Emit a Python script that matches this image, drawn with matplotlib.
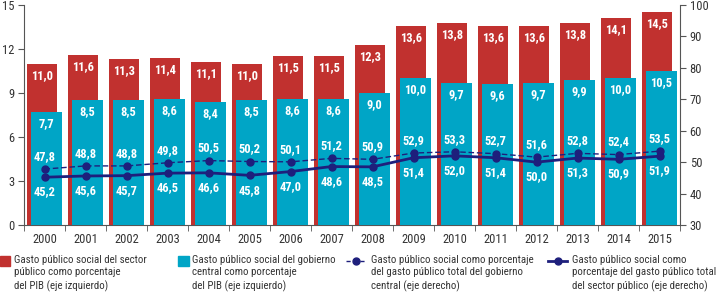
import matplotlib
matplotlib.use("Agg")
import matplotlib.pyplot as plt
from matplotlib import font_manager
from matplotlib.patches import Rectangle
from matplotlib.lines import Line2D
import numpy as np

years = ["2000", "2001", "2002", "2003", "2004", "2005", "2006", "2007",
         "2008", "2009", "2010", "2011", "2012", "2013", "2014", "2015"]
sector_publico_pib = [11.0, 11.6, 11.3, 11.4, 11.1, 11.0, 11.5, 11.5,
                      12.3, 13.6, 13.8, 13.6, 13.6, 13.8, 14.1, 14.5]
gobierno_central_pib = [7.7, 8.5, 8.5, 8.6, 8.4, 8.5, 8.6, 8.6,
                        9.0, 10.0, 9.7, 9.6, 9.7, 9.9, 10.0, 10.5]
pct_gobierno_central = [47.8, 48.8, 48.8, 49.8, 50.5, 50.2, 50.1, 51.2,
                        50.9, 52.9, 53.3, 52.7, 51.6, 52.8, 52.4, 53.5]
pct_sector_publico = [45.2, 45.6, 45.7, 46.5, 46.6, 45.8, 47.0, 48.6,
                      48.5, 51.4, 52.0, 51.4, 50.0, 51.3, 50.9, 51.9]
legend_labels = [
    "Gasto público social del sector\npúblico como porcentaje\ndel PIB (eje izquierdo)",
    "Gasto público social del gobierno\ncentral como porcentaje\ndel PIB (eje izquierdo)",
    "Gasto público social como porcentaje\ndel gasto público total del gobierno\ncentral (eje derecho)",
    "Gasto público social como\nporcentaje del gasto público total\ndel sector público (eje derecho)",
]

RED = "#C1312F"
BLUE = "#00A5C6"
NAVY = "#1E1F7C"
GRAY = "#555555"

# pick a condensed face if one is installed, else a narrow-ish sans
fams = {}
for f in font_manager.fontManager.ttflist:
    fams.setdefault(f.name, set()).add(str(f.stretch))
condensed_stretches = {"condensed", "semi-condensed", "extra-condensed",
                       "ultra-condensed", "75", "87", "62", "50"}
FAMILY, STRETCH, SCALE = "Liberation Sans", "normal", 0.88
for name in ["Roboto Condensed", "Liberation Sans Narrow", "Open Sans Condensed",
             "Noto Sans Condensed", "DejaVu Sans Condensed"]:
    if name in fams:
        FAMILY, STRETCH, SCALE = name, "normal", 1.0
        break
else:
    for name in ["Roboto", "DejaVu Sans", "Open Sans", "Noto Sans", "Liberation Sans"]:
        if name in fams and fams[name] & condensed_stretches:
            FAMILY, STRETCH, SCALE = name, "condensed", 1.0
            break

plt.rcParams["font.family"] = [FAMILY, "DejaVu Sans"]
plt.rcParams["font.stretch"] = STRETCH

def fs(v):
    return v * SCALE

def fmt(v):
    return f"{v:.1f}".replace(".", ",")

fig = plt.figure(figsize=(7.17, 2.98), dpi=100)
ax = fig.add_axes([24 / 717, 1 - 225 / 298, (680 - 24) / 717, 220 / 298])
ax2 = ax.twinx()

x = np.arange(len(years))
w = 0.74
ax.bar(x - 0.06, sector_publico_pib, width=w, color=RED, zorder=2)
ax.bar(x + 0.05, gobierno_central_pib, width=w, color=BLUE, zorder=3)

lab_kw = dict(color="white", fontweight="bold", ha="center", va="center",
              fontsize=fs(9), zorder=5)
for i, v in enumerate(sector_publico_pib):
    ax.text(x[i] - 0.06, v - 0.8, fmt(v), **lab_kw)
for i, v in enumerate(gobierno_central_pib):
    ax.text(x[i] + 0.05, v - 0.8, fmt(v), **lab_kw)

ax.set_xlim(-0.5, len(years) - 0.5)
ax.set_ylim(0, 15)
ax.set_yticks([0, 3, 6, 9, 12, 15])
ax.set_xticks(x)
ax.set_xticklabels(years)
ax.set_xticks(np.arange(-0.5, len(years), 1), minor=True)
ax.tick_params(axis="x", which="major", length=0, pad=6, labelsize=fs(9), colors="#333333")
ax.tick_params(axis="x", which="minor", length=4, color=GRAY, direction="out")
ax.tick_params(axis="y", length=4, color=GRAY, labelsize=fs(9), labelcolor="#333333", pad=3)

ax2.set_zorder(ax.get_zorder() + 1)
ax2.patch.set_visible(False)
ax2.set_ylim(30, 100)
ax2.set_yticks([30, 40, 50, 60, 70, 80, 90, 100])
ax2.tick_params(axis="y", length=4, color=GRAY, labelsize=fs(9), labelcolor="#333333", pad=3)

ax2.plot(x, pct_gobierno_central, color=NAVY, lw=1.0, ls=(0, (4, 2)),
         marker="o", ms=5, zorder=4)
ax2.plot(x, pct_sector_publico, color=NAVY, lw=2.0, marker="o", ms=5, zorder=4)
lab_kw2 = dict(lab_kw)
lab_kw2.pop("zorder")
for i in range(len(years)):
    ax2.text(x[i], pct_gobierno_central[i] + 4.0, fmt(pct_gobierno_central[i]), **lab_kw2)
    ax2.text(x[i], pct_sector_publico[i] - 4.7, fmt(pct_sector_publico[i]), **lab_kw2)

for a in (ax, ax2):
    a.spines["top"].set_visible(False)
    for s in ("left", "right", "bottom"):
        a.spines[s].set_color(GRAY)
        a.spines[s].set_linewidth(0.8)
ax2.spines["left"].set_visible(False)
ax2.spines["bottom"].set_visible(False)
ax.spines["right"].set_visible(False)

# Legend drawn manually in figure pixel coordinates
def fx(px):
    return px / 717
def fy(py):
    return 1 - py / 298

text_kw = dict(fontsize=fs(7.8), color="#333333", va="top", ha="left", linespacing=1.3)
fig.patches.append(Rectangle((fx(0), fy(266)), fx(10), 10 / 298, color=RED,
                             transform=fig.transFigure, figure=fig))
fig.text(fx(14), fy(255), legend_labels[0], **text_kw)
fig.patches.append(Rectangle((fx(178), fy(266)), fx(11), 10 / 298, color=BLUE,
                             transform=fig.transFigure, figure=fig))
fig.text(fx(192), fy(255), legend_labels[1], **text_kw)
fig.lines.append(Line2D([fx(346), fx(366)], [fy(261), fy(261)], color=NAVY, lw=1.0,
                        ls=(0, (3, 2)), transform=fig.transFigure))
fig.lines.append(Line2D([fx(356)], [fy(261)], color=NAVY, marker="o", ms=5,
                        transform=fig.transFigure))
fig.text(fx(371), fy(255), legend_labels[2], **text_kw)
fig.lines.append(Line2D([fx(548), fx(567)], [fy(261), fy(261)], color=NAVY, lw=2.0,
                        transform=fig.transFigure))
fig.lines.append(Line2D([fx(557.5)], [fy(261)], color=NAVY, marker="o", ms=5,
                        transform=fig.transFigure))
fig.text(fx(572), fy(255), legend_labels[3], **text_kw)

fig.savefig("out.png", dpi=100)
